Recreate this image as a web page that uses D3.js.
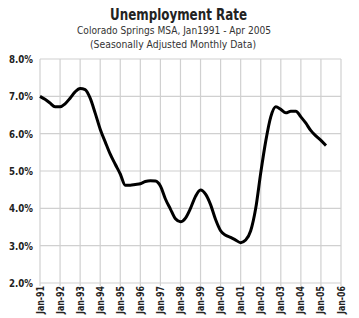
<!DOCTYPE html>
<html><head><meta charset="utf-8">
<script src="https://cdn.jsdelivr.net/npm/d3@7"></script>
<style>
body{margin:0;background:#fff;}
text{font-family:"DejaVu Sans Condensed","DejaVu Sans",sans-serif;font-stretch:condensed;}
</style></head>
<body><svg id="c" width="359" height="318"></svg>
<script>
const titleText = "Unemployment Rate";
const subtitle1 = "Colorado Springs MSA, Jan1991 - Apr 2005";
const subtitle2 = "(Seasonally Adjusted Monthly Data)";
// years after Jan 1991 (quarterly readings)
const times = [0,0.25,0.5,0.75,1,1.25,1.5,1.75,2,2.25,2.5,2.75,3,3.25,3.5,3.75,4,4.25,4.5,4.75,5,5.25,5.5,5.75,6,6.25,6.5,6.75,7,7.25,7.5,7.75,8,8.25,8.5,8.75,9,9.25,9.5,9.75,10,10.25,10.5,10.75,11,11.25,11.5,11.75,12,12.25,12.5,12.75,13,13.25,13.5,13.75,14,14.25];
const rates = [7.00,6.92,6.82,6.72,6.72,6.80,6.95,7.12,7.21,7.18,6.95,6.55,6.12,5.78,5.45,5.18,4.92,4.62,4.62,4.64,4.66,4.72,4.74,4.73,4.60,4.25,3.98,3.72,3.64,3.74,4.00,4.32,4.49,4.38,4.10,3.70,3.40,3.28,3.22,3.15,3.08,3.15,3.40,4.00,4.95,5.80,6.45,6.72,6.65,6.56,6.60,6.60,6.45,6.28,6.08,5.94,5.82,5.68];
const yTicks = [2,3,4,5,6,7,8];
const xTickLabels = ["Jan-91","Jan-92","Jan-93","Jan-94","Jan-95","Jan-96","Jan-97","Jan-98","Jan-99","Jan-00","Jan-01","Jan-02","Jan-03","Jan-04","Jan-05","Jan-06"];

const svg = d3.select("#c");
const L=40, R=341, T=59, B=283;
const x = d3.scaleLinear().domain([0,15]).range([L,R]);
const y = d3.scaleLinear().domain([2,8]).range([B,T]);

// grid
svg.append("g").selectAll("line").data(yTicks).join("line")
  .attr("x1",L).attr("x2",R).attr("y1",d=>y(d)).attr("y2",d=>y(d))
  .attr("stroke","#d0d0d0").attr("stroke-width",1.2);
svg.append("g").selectAll("line").data(xTickLabels).join("line")
  .attr("x1",(d,i)=>x(i)).attr("x2",(d,i)=>x(i)).attr("y1",T).attr("y2",B+3)
  .attr("stroke","#d0d0d0").attr("stroke-width",1.2);

// y labels
svg.append("g").selectAll("text").data(yTicks).join("text")
  .attr("x",33).attr("y",d=>y(d)+4).attr("text-anchor","end")
  .attr("font-size",10).attr("font-weight","bold").attr("fill","#222")
  .attr("textLength",24).attr("lengthAdjust","spacingAndGlyphs")
  .text(d=>d.toFixed(1)+"%");

// x labels
svg.append("g").selectAll("text").data(xTickLabels).join("text")
  .attr("transform",(d,i)=>`translate(${x(i)+3.5},${B+3}) rotate(-90)`)
  .attr("text-anchor","end").attr("font-size",10).attr("font-weight","bold").attr("fill","#222")
  .attr("textLength",28).attr("lengthAdjust","spacingAndGlyphs")
  .text(d=>d);

// line
const line = d3.line().x((d,i)=>x(times[i])).y(d=>y(d)).curve(d3.curveMonotoneX);
svg.append("path").datum(rates).attr("d",line).attr("fill","none")
  .attr("stroke","#000").attr("stroke-width",3).attr("stroke-linejoin","round");

// titles
svg.append("text").attr("x",178.5).attr("y",20).attr("text-anchor","middle")
  .attr("font-size",15).attr("font-weight","bold").attr("fill","#222")
  .attr("textLength",137).attr("lengthAdjust","spacingAndGlyphs").text(titleText);
svg.append("text").attr("x",174).attr("y",34).attr("text-anchor","middle")
  .attr("font-size",10).attr("fill","#333")
  .attr("textLength",194).attr("lengthAdjust","spacingAndGlyphs").text(subtitle1);
svg.append("text").attr("x",173).attr("y",48).attr("text-anchor","middle")
  .attr("font-size",10).attr("fill","#333")
  .attr("textLength",166).attr("lengthAdjust","spacingAndGlyphs").text(subtitle2);
</script></body></html>
